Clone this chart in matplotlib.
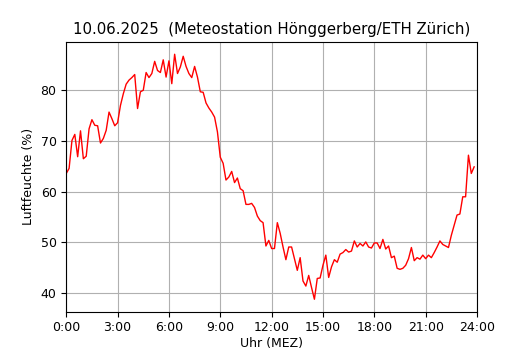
import numpy as np
import matplotlib
matplotlib.use("Agg")
import matplotlib.pyplot as plt

# Luftfeuchte alle 10 Minuten, 0:00 bis 23:50
feuchte = [
    63.6, 64.6, 70.1, 71.3, 66.9, 72.0,
    66.5, 67.0, 72.4, 74.2, 73.1, 73.0,
    69.6, 70.5, 72.1, 75.7, 74.4, 73.0,
    73.6, 77.0, 79.3, 81.2, 82.0, 82.5,
    83.1, 76.4, 79.7, 80.0, 83.5, 82.5,
    83.3, 85.7, 83.9, 83.5, 86.0, 82.6,
    85.8, 81.3, 87.1, 83.3, 84.6, 86.7,
    84.7, 83.3, 82.5, 84.7, 82.6, 79.7,
    79.6, 77.5, 76.5, 75.7, 74.7, 71.8,
    66.8, 65.6, 62.3, 62.9, 64.0, 61.8,
    62.7, 60.6, 60.2, 57.5, 57.5, 57.7,
    56.9, 55.2, 54.3, 53.9, 49.3, 50.4,
    48.8, 48.8, 53.9, 51.8, 49.1, 46.6,
    49.1, 49.1, 46.8, 44.5, 47.0, 42.4,
    41.4, 43.5, 41.1, 38.8, 42.9, 43.0,
    45.5, 47.5, 43.1, 45.2, 46.6, 46.1,
    47.7, 48.0, 48.6, 48.1, 48.3, 50.3,
    49.1, 49.8, 49.3, 50.1, 49.1, 48.9,
    49.9, 49.9, 48.8, 50.6, 48.7, 49.3,
    47.0, 47.3, 44.9, 44.7, 44.9, 45.5,
    46.8, 49.0, 46.4, 47.0, 46.7, 47.5,
    46.8, 47.5, 47.0, 48.0, 49.1, 50.3,
    49.6, 49.3, 49.0, 51.4, 53.4, 55.4,
    55.6, 59.0, 59.0, 67.2, 63.6, 64.9,
]
stunden = np.arange(len(feuchte)) / 6.0  # Zeit in Stunden
tick_stunden = [0, 3, 6, 9, 12, 15, 18, 21, 24]
tick_labels = [f"{h}:00" for h in tick_stunden]

fig, ax = plt.subplots(figsize=(5.3, 3.5), dpi=100)
ax.plot(stunden, feuchte, color="red", linewidth=1)

ax.set_xlim(0, 24)
ax.set_xticks(tick_stunden)
ax.set_xticklabels(tick_labels)
ax.grid(True)

ax.set_title("10.06.2025  (Meteostation Hönggerberg/ETH Zürich)", fontsize=10.8)
ax.set_xlabel("Uhr (MEZ)", fontsize=9, labelpad=2)
ax.set_ylabel("Luftfeuchte (%)", fontsize=9)
ax.tick_params(labelsize=9)

plt.savefig("out.png", dpi=100)
